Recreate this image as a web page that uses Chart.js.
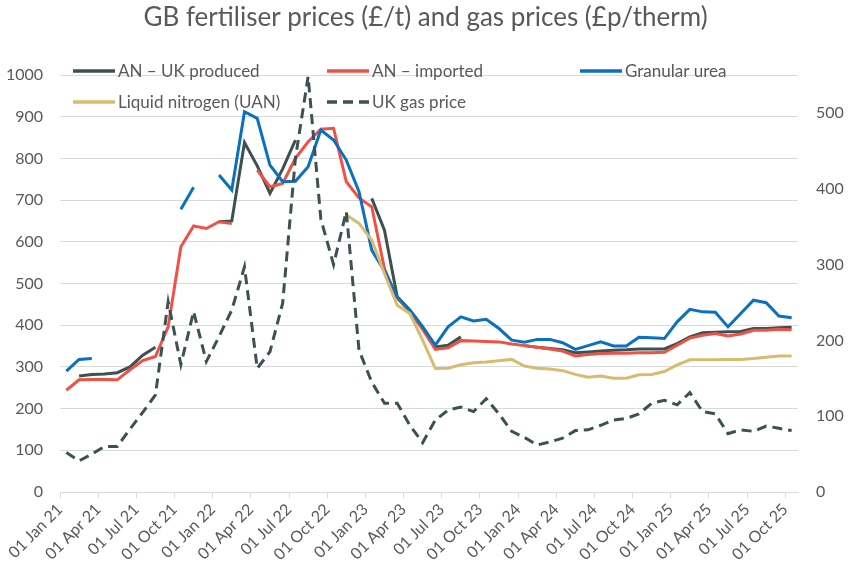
<!DOCTYPE html>
<html>
<head>
<meta charset="utf-8">
<script src="https://cdn.jsdelivr.net/npm/chart.js@4.4.0/dist/chart.umd.min.js"></script>
<style>
  html, body { margin: 0; padding: 0; background: #fff; }
</style>
</head>
<body>
<canvas id="fertChart" width="851" height="573"></canvas>
<script>
// 월별 데이터 (각 달 중순 값), 빈 달은 null
const months = [
  '01 Jan 21', '01 Feb 21', '01 Mar 21', '01 Apr 21', '01 May 21', '01 Jun 21',
  '01 Jul 21', '01 Aug 21', '01 Sep 21', '01 Oct 21', '01 Nov 21', '01 Dec 21',
  '01 Jan 22', '01 Feb 22', '01 Mar 22', '01 Apr 22', '01 May 22', '01 Jun 22',
  '01 Jul 22', '01 Aug 22', '01 Sep 22', '01 Oct 22', '01 Nov 22', '01 Dec 22',
  '01 Jan 23', '01 Feb 23', '01 Mar 23', '01 Apr 23', '01 May 23', '01 Jun 23',
  '01 Jul 23', '01 Aug 23', '01 Sep 23', '01 Oct 23', '01 Nov 23', '01 Dec 23',
  '01 Jan 24', '01 Feb 24', '01 Mar 24', '01 Apr 24', '01 May 24', '01 Jun 24',
  '01 Jul 24', '01 Aug 24', '01 Sep 24', '01 Oct 24', '01 Nov 24', '01 Dec 24',
  '01 Jan 25', '01 Feb 25', '01 Mar 25', '01 Apr 25', '01 May 25', '01 Jun 25',
  '01 Jul 25', '01 Aug 25', '01 Sep 25', '01 Oct 25'
];

const anUkProduced = [
  null, 278, 282, 283, 286, 300, 328, 347, null, null, null, null,
  648, 650, 838, 782, 716, 775, 844, null, null, null, null, null,
  704, 628, 468, 436, 396, 348, 352, 372, null, null, null, null,
  351, 347, 344, 341, 334, 336, 338, 340, 341, 343, 343, 343,
  356, 372, 382, 383, 384, 385, 392, 392, 394, 395
];

const anImported = [
  244, 269, 270, 270, 269, 293, 315, 325, 396, 588, 638, 632,
  648, 644, null, 772, 732, 740, 800, 840, 870, 872, 744, 705,
  684, 535, 465, 432, 390, 342, 346, 363, 362, 361, 360, 355,
  351, 347, 343, 338, 326, 330, 332, 333, 333, 334, 334, 335,
  352, 369, 376, 380, 374, 379, 388, 388, 390, 389
];

const granularUrea = [
  290, 318, 320, null, null, null, null, null, null, 678, 731, null,
  760, 724, 912, 896, 784, 744, 745, 780, 868, 844, 796, 720,
  580, 530, 468, 436, 396, 352, 396, 420, 410, 414, 392, 364,
  359, 366, 366, 358, 342, 351, 360, 350, 350, 371, 370, 368,
  408, 438, 432, 431, 396, 428, 460, 454, 422, 418
];

const liquidNitrogen = [
  null, null, null, null, null, null, null, null, null, null, null, null,
  null, null, null, null, null, null, null, null, null, null, 664, 644,
  604, 524, 448, 428, 364, 296, 297, 305, 310, 312, 315, 318,
  302, 297, 295, 291, 282, 275, 278, 273, 273, 281, 282, 289,
  305, 317, 317, 317, 318, 318, 320, 323, 326, 326
];

// 가스 가격 (p/therm, 오른쪽 축)
const ukGasPrice = [
  52, 41, 50, 60, 60, 83, 105, 128, 251, 168, 238, 172,
  205, 240, 297, 163, 185, 249, 440, 548, 360, 300, 370, 187,
  145, 117, 117, 88, 65, 95, 108, 112, 106, 123, 103, 80,
  72, 62, 66, 71, 81, 82, 88, 95, 97, 103, 117, 121,
  115, 131, 106, 103, 77, 82, 80, 87, 84, 81
];

const FONT = 'Lato';
const TEXT = '#595959';
const GRID = '#d9d9d9';

// 엑셀처럼 3열 2행 범례를 차트 안쪽에 그림
const gridLegend = {
  id: 'gridLegend',
  afterDatasetsDraw(chart) {
    const ctx = chart.ctx;
    const colX = [73, 327, 580];
    const rowY = [71, 102];
    ctx.save();
    ctx.font = '17px ' + FONT;
    ctx.textBaseline = 'middle';
    chart.data.datasets.forEach((ds, i) => {
      const x = colX[i % 3];
      const y = rowY[Math.floor(i / 3)];
      ctx.strokeStyle = ds.borderColor;
      ctx.lineWidth = 3.5;
      ctx.setLineDash(ds.borderDash || []);
      ctx.beginPath();
      ctx.moveTo(x, y);
      ctx.lineTo(x + 42, y);
      ctx.stroke();
      ctx.setLineDash([]);
      ctx.fillStyle = TEXT;
      ctx.fillText(ds.label, x + 45, y + 1);
    });
    ctx.restore();
  }
};

function line(label, data, color, order, extra) {
  return Object.assign({
    label: label,
    data: data,
    borderColor: color,
    backgroundColor: color,
    borderWidth: 3,
    pointRadius: 0,
    tension: 0,
    spanGaps: false,
    yAxisID: 'y',
    order: order
  }, extra || {});
}

const quarterOnly = c => (c.index % 3 === 0 ? GRID : 'rgba(0,0,0,0)');

new Chart(document.getElementById('fertChart'), {
  type: 'line',
  data: {
    labels: months,
    datasets: [
      line('AN – UK produced', anUkProduced, '#3c5152', 5),
      line('AN – imported', anImported, '#ef5145', 4),
      line('Granular urea', granularUrea, '#0a70c0', 3),
      line('Liquid nitrogen (UAN)', liquidNitrogen, '#d8bb6e', 2),
      line('UK gas price', ukGasPrice, '#3c5152', 1, { borderDash: [10, 6], yAxisID: 'y2' })
    ]
  },
  options: {
    responsive: false,
    animation: false,
    plugins: {
      legend: { display: false },
      tooltip: { enabled: false },
      title: {
        display: true,
        text: 'GB fertiliser prices (£/t) and gas prices (£p/therm)',
        color: TEXT,
        font: { family: FONT, size: 26, weight: 'normal' },
        padding: { top: 2, bottom: 41.8 }
      }
    },
    scales: {
      x: {
        offset: true,
        grid: {
          offset: true,
          drawOnChartArea: false,
          drawTicks: true,
          tickLength: 6,
          color: quarterOnly,
          tickColor: quarterOnly
        },
        border: { color: GRID },
        ticks: {
          autoSkip: false,
          minRotation: 45,
          maxRotation: 45,
          labelOffset: -6.4,
          padding: 2,
          color: TEXT,
          font: { family: FONT, size: 16 },
          callback: function (v, i) { return i % 3 === 0 ? this.getLabelForValue(v) : ''; }
        },
        afterFit: s => { s.height = 81; }
      },
      y: {
        position: 'left',
        min: 0,
        max: 1000,
        grid: { color: GRID, drawTicks: false },
        border: { display: false },
        ticks: {
          stepSize: 100,
          padding: 17,
          color: TEXT,
          font: { family: FONT, size: 16 },
          callback: v => String(v)
        },
        afterFit: s => { s.width = 60; }
      },
      y2: {
        position: 'right',
        min: 0,
        max: 550,
        grid: { display: false, drawTicks: false },
        border: { display: false },
        ticks: {
          stepSize: 100,
          padding: 18,
          color: TEXT,
          font: { family: FONT, size: 16 },
          callback: v => (v % 100 === 0 ? String(v) : null)
        },
        afterFit: s => { s.width = 53; }
      }
    }
  },
  plugins: [gridLegend]
});
</script>
</body>
</html>
